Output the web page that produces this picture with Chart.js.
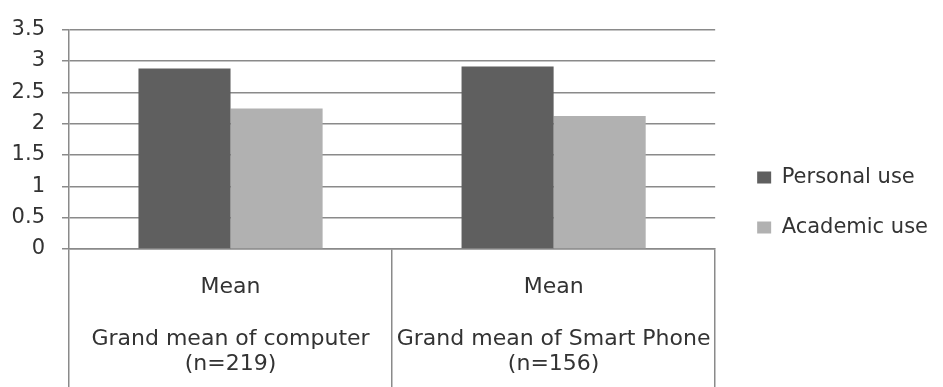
<!DOCTYPE html>
<html>
<head>
<meta charset="utf-8">
<script src="https://cdn.jsdelivr.net/npm/chart.js@4/dist/chart.umd.min.js"></script>
<style>
  html, body { margin: 0; padding: 0; background: #fff; }
  #wrap { width: 943px; height: 387px; }
</style>
</head>
<body>
<div id="wrap"><canvas id="meanChart"></canvas></div>
<script>
const categories = [
    ["Mean", "", "Grand mean of computer", "(n=219)"],
    ["Mean", "", "Grand mean of Smart Phone", "(n=156)"]
];
const personalUse = [2.88, 2.91];
const academicUse = [2.24, 2.12];
const yTicks = [0, 0.5, 1, 1.5, 2, 2.5, 3, 3.5];

const lineGray = "#8a8a8a";
const textGray = "#333333";
const labelFont = { family: "DejaVu Sans", size: 21 };

new Chart("meanChart", {
    type: "bar",
    data: {
        labels: categories,
        datasets: [{
            label: "Personal use",
            data: personalUse,
            backgroundColor: "#5f5f5f",
            barPercentage: 1,
            categoryPercentage: 0.57
        }, {
            label: "Academic use",
            data: academicUse,
            backgroundColor: "#b1b1b1",
            barPercentage: 1,
            categoryPercentage: 0.57
        }]
    },
    options: {
        responsive: true,
        maintainAspectRatio: false,
        animation: false,
        layout: { padding: { top: 18, left: 0, right: 5, bottom: 0 } },
        scales: {
            x: {
                offset: true,
                grid: {
                    offset: true,
                    drawOnChartArea: false,
                    tickLength: 138,
                    color: lineGray,
                    lineWidth: 1.5
                },
                border: { color: lineGray, width: 1.5 },
                ticks: {
                    color: textGray,
                    font: { family: "DejaVu Sans", size: 22, lineHeight: 1.16 },
                    padding: -112,
                    maxRotation: 0,
                    autoSkip: false
                },
                // labels sit inside the long divider ticks, so fix the band height
                afterFit: (scale) => { scale.height = 138; }
            },
            y: {
                min: 0,
                max: 3.5,
                afterBuildTicks: (scale) => { scale.ticks = yTicks.map(v => ({ value: v })); },
                grid: { color: lineGray, lineWidth: 1.5, tickLength: 7 },
                border: { color: lineGray, width: 1.5 },
                ticks: {
                    color: textGray,
                    font: labelFont,
                    padding: 17,
                    callback: (v) => String(v)
                },
                afterFit: (scale) => { scale.width = 69; }
            },
            gap: {
                position: "right",
                display: true,
                grid: { display: false },
                border: { display: false },
                ticks: { display: false },
                afterFit: (scale) => { scale.width = 13; }
            }
        },
        plugins: {
            tooltip: { enabled: false },
            legend: {
                position: "right",
                maxWidth: 260,
                labels: {
                    color: textGray,
                    font: labelFont,
                    boxWidth: 14,
                    boxHeight: 12,
                    padding: 29
                }
            }
        }
    }
});
</script>
</body>
</html>
